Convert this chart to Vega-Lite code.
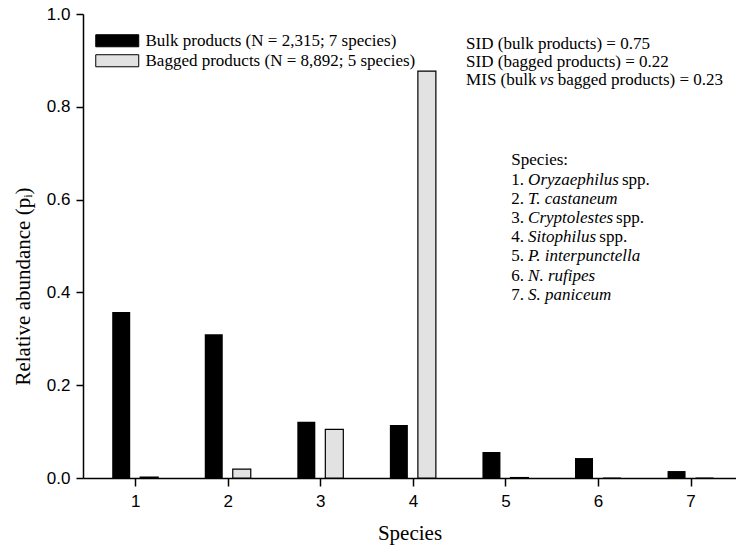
{
  "$schema": "https://vega.github.io/schema/vega-lite/v6.json",
  "width": 653,
  "height": 464,
  "autosize": {"type": "none"},
  "padding": {"left": 83, "top": 14, "right": 0, "bottom": 72},
  "background": "white",
  "config": {
    "view": {"stroke": null},
    "axis": {
      "labelFont": "Liberation Sans, Arial, sans-serif",
      "labelFontSize": 17,
      "labelColor": "black",
      "tickColor": "black",
      "domainColor": "black",
      "domainWidth": 1.5,
      "tickWidth": 1.5,
      "grid": false,
      "titleFont": "Liberation Serif, Times New Roman, serif",
      "titleFontSize": 21,
      "titleFontWeight": "normal",
      "titleColor": "black"
    },
    "axisX": {"tickSize": 8, "labelPadding": 7, "titlePadding": 13},
    "axisY": {"tickSize": 7, "labelPadding": 6, "titlePadding": 13, "titleY": 272},
    "legend": {
      "orient": "none",
      "legendX": 22.75,
      "legendY": 15.25,
      "padding": 0,
      "symbolType": "M-2,-0.56H2V0.56H-2Z",
      "symbolSize": 462,
      "symbolStrokeColor": "black",
      "symbolStrokeWidth": 1,
      "labelFont": "Liberation Serif, Times New Roman, serif",
      "labelFontSize": 17,
      "labelColor": "black",
      "labelOffset": 16.75,
      "rowPadding": 0,
      "labelLimit": 400
    }
  },
  "datasets": {
    "bars": [
      {"x": 1, "y": 0.358, "product": "Bulk"},
      {"x": 2, "y": 0.310, "product": "Bulk"},
      {"x": 3, "y": 0.121, "product": "Bulk"},
      {"x": 4, "y": 0.114, "product": "Bulk"},
      {"x": 5, "y": 0.056, "product": "Bulk"},
      {"x": 6, "y": 0.043, "product": "Bulk"},
      {"x": 7, "y": 0.015, "product": "Bulk"},
      {"x": 1, "y": 0.002, "product": "Bagged"},
      {"x": 2, "y": 0.019, "product": "Bagged"},
      {"x": 3, "y": 0.105, "product": "Bagged"},
      {"x": 4, "y": 0.877, "product": "Bagged"},
      {"x": 5, "y": 0.001, "product": "Bagged"},
      {"x": 6, "y": 0.0, "product": "Bagged"},
      {"x": 7, "y": 0.0, "product": "Bagged"}
    ],
    "notes": [
      {"x": 4.575, "y": 0.935, "t": "SID (bulk products) = 0.75", "s": "n"},
      {"x": 4.575, "y": 0.897, "t": "SID (bagged products) = 0.22", "s": "n"},
      {"x": 4.575, "y": 0.858, "t": "MIS (bulk", "s": "n"},
      {"x": 5.369, "y": 0.858, "t": "vs", "s": "i"},
      {"x": 5.565, "y": 0.858, "t": "bagged products) = 0.23", "s": "n"},
      {"x": 5.064, "y": 0.685, "t": "Species:", "s": "n"},
      {"x": 5.064, "y": 0.643, "t": "1.", "s": "n"},
      {"x": 5.245, "y": 0.643, "t": "Oryzaephilus", "s": "i"},
      {"x": 6.259, "y": 0.643, "t": "spp.", "s": "n"},
      {"x": 5.064, "y": 0.602, "t": "2.", "s": "n"},
      {"x": 5.245, "y": 0.602, "t": "T. castaneum", "s": "i"},
      {"x": 5.064, "y": 0.561, "t": "3.", "s": "n"},
      {"x": 5.245, "y": 0.561, "t": "Cryptolestes", "s": "i"},
      {"x": 6.195, "y": 0.561, "t": "spp.", "s": "n"},
      {"x": 5.064, "y": 0.519, "t": "4.", "s": "n"},
      {"x": 5.245, "y": 0.519, "t": "Sitophilus", "s": "i"},
      {"x": 6.014, "y": 0.519, "t": "spp.", "s": "n"},
      {"x": 5.064, "y": 0.478, "t": "5.", "s": "n"},
      {"x": 5.245, "y": 0.478, "t": "P. interpunctella", "s": "i"},
      {"x": 5.064, "y": 0.436, "t": "6.", "s": "n"},
      {"x": 5.245, "y": 0.436, "t": "N. rufipes", "s": "i"},
      {"x": 5.064, "y": 0.395, "t": "7.", "s": "n"},
      {"x": 5.245, "y": 0.395, "t": "S. paniceum", "s": "i"}
    ]
  },
  "layer": [
    {
      "data": {"name": "bars"},
      "transform": [{"filter": "datum.product === 'Bulk'"}],
      "mark": {"type": "bar", "width": 18, "xOffset": -14},
      "encoding": {
        "x": {
          "field": "x", "type": "quantitative",
          "scale": {"domain": [0.49, 7.437], "nice": false, "zero": false},
          "axis": {"values": [1, 2, 3, 4, 5, 6, 7], "format": "d", "title": "Species"}
        },
        "y": {
          "field": "y", "type": "quantitative",
          "scale": {"domain": [0, 1], "nice": false},
          "axis": {"values": [0, 0.2, 0.4, 0.6, 0.8, 1.0], "format": ".1f", "title": "Relative abundance (pᵢ)"}
        },
        "color": {
          "field": "product", "type": "nominal",
          "scale": {"domain": ["Bulk", "Bagged"], "range": ["#000000", "#e2e2e2"]},
          "legend": {
            "title": null,
            "labelExpr": "datum.label == 'Bulk' ? 'Bulk products (N = 2,315; 7 species)' : 'Bagged products (N = 8,892; 5 species)'"
          }
        }
      }
    },
    {
      "data": {"name": "bars"},
      "transform": [{"filter": "datum.product === 'Bagged'"}],
      "mark": {"type": "bar", "width": 18, "xOffset": 14, "stroke": "black", "strokeWidth": 1.2},
      "encoding": {
        "x": {"field": "x", "type": "quantitative", "scale": {"domain": [0.49, 7.437], "nice": false, "zero": false}},
        "y": {"field": "y", "type": "quantitative", "scale": {"domain": [0, 1], "nice": false}},
        "color": {"field": "product", "type": "nominal"}
      }
    },
    {
      "mark": {"type": "rule", "color": "black", "strokeWidth": 1.5},
      "encoding": {"y": {"datum": 1}}
    },
    {
      "data": {"name": "notes"},
      "transform": [{"filter": "datum.s === 'n'"}],
      "mark": {"type": "text", "align": "left", "baseline": "middle", "font": "Liberation Serif, Times New Roman, serif", "fontSize": 17, "color": "black"},
      "encoding": {
        "x": {"field": "x", "type": "quantitative"},
        "y": {"field": "y", "type": "quantitative"},
        "text": {"field": "t"}
      }
    },
    {
      "data": {"name": "notes"},
      "transform": [{"filter": "datum.s === 'i'"}],
      "mark": {"type": "text", "align": "left", "baseline": "middle", "font": "Liberation Serif, Times New Roman, serif", "fontSize": 17, "fontStyle": "italic", "color": "black"},
      "encoding": {
        "x": {"field": "x", "type": "quantitative"},
        "y": {"field": "y", "type": "quantitative"},
        "text": {"field": "t"}
      }
    }
  ]
}
